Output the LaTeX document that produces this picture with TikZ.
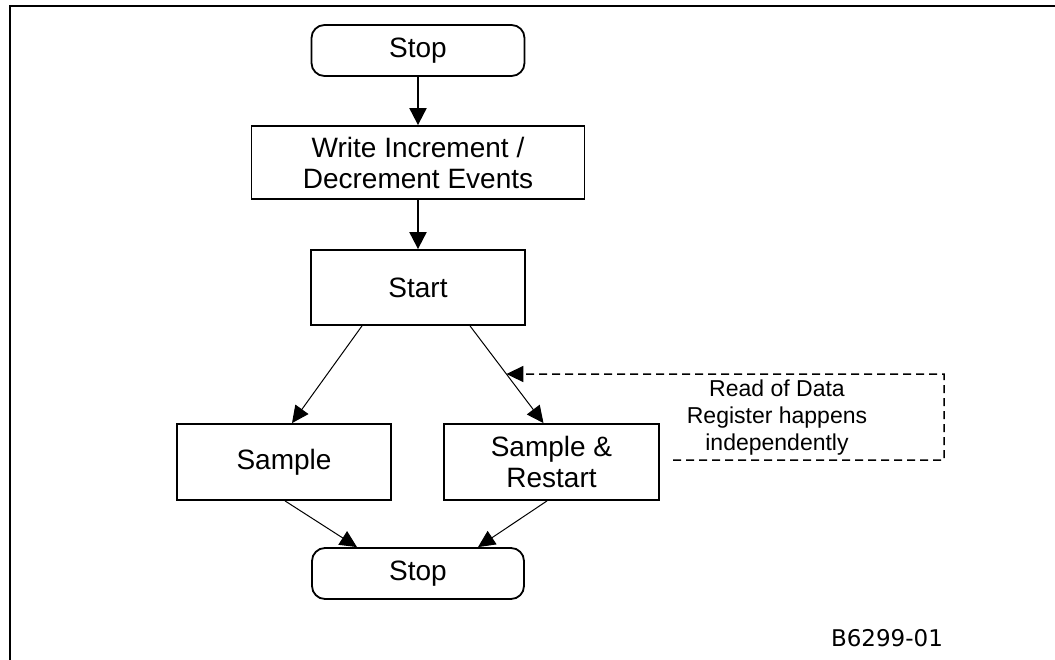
\documentclass[tikz,border=0pt]{standalone}
\usepackage{fontspec}
\setmainfont{Liberation Sans}
\newfontfamily\codefont{DejaVu Sans}
\usetikzlibrary{arrows.meta,calc}

\tikzset{
  flowbox/.style={draw, line width=1.8pt, rectangle, align=center,
    font=\fontsize{28}{31}\selectfont, inner sep=0pt},
  termbox/.style={flowbox, rounded corners=13pt},
  thickarrow/.style={line width=2pt, -{Triangle[length=17pt,width=17pt]}},
  thinarrow/.style={line width=1pt, -{Triangle[length=17pt,width=16pt]}},
  notearrow/.style={line width=1.5pt, dash pattern=on 8pt off 5pt,
    -{Triangle[length=17pt,width=16pt]}},
  notetextstyle/.style={align=center, font=\fontsize{23}{27}\selectfont, inner sep=0pt},
}

\begin{document}
\begin{tikzpicture}[x=1pt, y=-1pt]
  \useasboundingbox (0,0) rectangle (1055,660);

  % frame along the top and left edges
  \coordinate (fa) at (10,660);
  \coordinate (fb) at (10,6);
  \coordinate (fc) at (1055,6);
  \draw[line width=2.8pt] (fa) -- (fb) -- (fc);

  % flow nodes
  \node[termbox, minimum width=213pt, minimum height=51pt] (stoptop) at (418,50.5) {Stop};
  \node[flowbox, minimum width=333pt, minimum height=73pt] (write) at (418,162.5)
    {Write Increment /\\Decrement Events};
  \node[flowbox, minimum width=214pt, minimum height=75pt] (start) at (418,287.5) {Start};
  \node[flowbox, minimum width=214pt, minimum height=76pt] (sample) at (284,462) {Sample};
  \node[flowbox, minimum width=215pt, minimum height=76pt] (restart) at (551.5,462)
    {Sample \&\\Restart};
  \node[termbox, minimum width=212pt, minimum height=51pt] (stopbot) at (418,573.5) {Stop};

  % connectors
  \draw[thickarrow] (stoptop.south) -- (write.north);
  \draw[thickarrow] (write.south) -- (start.north);
  \draw[thinarrow] ([xshift=-56pt]start.south) -- ([xshift=8pt]sample.north);
  \coordinate (ra) at ([xshift=52pt]start.south);
  \coordinate (rb) at ([xshift=-8pt]restart.north);
  \draw[thinarrow] (ra) -- (rb);
  \draw[thinarrow] ([xshift=1pt]sample.south) -- ([xshift=-61pt]stopbot.north);
  \draw[thinarrow] ([xshift=-4.5pt]restart.south) -- ([xshift=60pt]stopbot.north);

  % note about reading the data register
  \node[notetextstyle] (notetext) at (777,418)
    {Read of Data\\Register happens\\independently};
  \coordinate (tap) at ($(ra)!0.495!(rb)$);
  \coordinate (na) at (673,460);
  \coordinate (nb) at (944,460);
  \coordinate (nc) at (944,374);
  \draw[notearrow] (na) -- (nb) -- (nc) -- (tap);

  % figure code
  \node[font=\codefont\fontsize{23}{27}\selectfont, inner sep=0pt] (code) at (887,638) {B6299-01};
\end{tikzpicture}
\end{document}
